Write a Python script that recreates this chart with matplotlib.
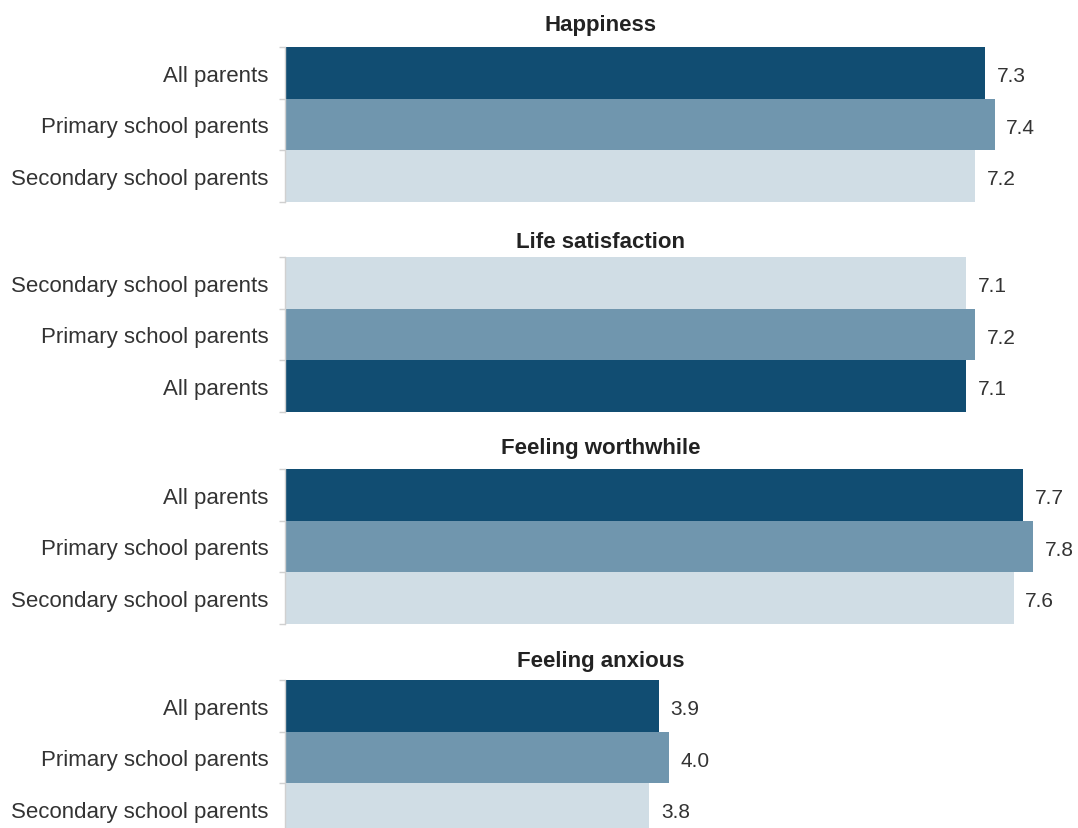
import matplotlib.pyplot as plt

plt.rcParams['font.family'] = ['Liberation Sans', 'DejaVu Sans']

# panel titles and the bars of each panel, top to bottom
titles = ["Happiness", "Life satisfaction", "Feeling worthwhile", "Feeling anxious"]
groups = [
    ["All parents", "Primary school parents", "Secondary school parents"],
    ["Secondary school parents", "Primary school parents", "All parents"],
    ["All parents", "Primary school parents", "Secondary school parents"],
    ["All parents", "Primary school parents", "Secondary school parents"],
]
values = [
    [7.3, 7.4, 7.2],
    [7.1, 7.2, 7.1],
    [7.7, 7.8, 7.6],
    [3.9, 4.0, 3.8],
]

colors = {
    "All parents": "#114d72",
    "Primary school parents": "#7096ae",
    "Secondary school parents": "#d0dde5",
}
text_col = "#333333"

W, H = 1078, 829
fig = plt.figure(figsize=(W / 100, H / 100), dpi=100)

# panel tops and title centres in pixels
tops = [48, 258, 470, 681]
title_y = [25, 242, 449, 661]
panel_h = 155
left_px = 285
xmax = 8.2
px_per_unit = 95.9

for i, (title, cats, vals) in enumerate(zip(titles, groups, values)):
    top = tops[i]
    ax = fig.add_axes([left_px / W, (H - top - panel_h) / H,
                       xmax * px_per_unit / W, panel_h / H])
    cols = [colors[c] for c in cats]
    y = list(range(len(cats)))
    ax.barh(y, vals, height=1.0, color=cols, edgecolor="none")
    ax.set_ylim(len(cats) - 0.5, -0.5)
    ax.set_xlim(0, xmax)
    for yy, v in zip(y, vals):
        ax.text(v + 0.12, yy + 0.05, f"{v:.1f}", va="center", ha="left",
                fontsize=15, color=text_col)
    ax.set_yticks(y)
    ax.set_yticklabels(cats, fontsize=16, color=text_col)
    ax.tick_params(axis="y", which="major", length=0, pad=12)
    ax.set_yticks([-0.5, 0.5, 1.5, 2.5], minor=True)
    ax.tick_params(axis="y", which="minor", length=4, color="#d0d0d0", width=1)
    ax.set_xticks([])
    for s in ["top", "right", "bottom"]:
        ax.spines[s].set_visible(False)
    ax.spines["left"].set_color("#d0d0d0")
    ax.spines["left"].set_linewidth(1)
    fig.text(601 / W, 1 - title_y[i] / H, title, fontsize=16, fontweight="bold",
             color="#222222", ha="center", va="center")

fig.savefig("out.png", dpi=100)
